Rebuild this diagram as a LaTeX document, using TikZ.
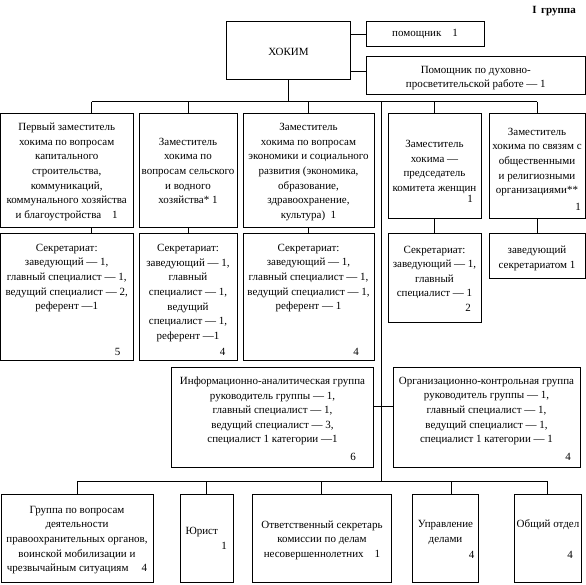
\documentclass[tikz,border=0pt]{standalone}
\usepackage{fontspec}
\setmainfont{Liberation Serif}
\usetikzlibrary{fit}
\begin{document}
\begin{tikzpicture}[x=1pt,y=-1pt,
  frame/.style={draw, line width=0.8pt, inner sep=0pt},
  txt/.style={align=center, inner sep=0pt, font=\fontsize{11}{14.6}\selectfont},
  num/.style={inner sep=0pt, font=\fontsize{11}{14.6}\selectfont},
  link/.style={line width=0.8pt}]
\useasboundingbox (0,0) rectangle (586,584);

% frames
\node[frame, fit={(226,21.7) (350.7,79.3)}] (hokim) {};
\node[frame, fit={(366.7,21.7) (484,46.7)}] (pom) {};
\node[frame, fit={(366.7,56.7) (585,94.3)}] (pdr) {};
\node[frame, fit={(0.5,113) (133,227)}] (b1) {};
\node[frame, fit={(139,113) (237,227)}] (b2) {};
\node[frame, fit={(243,113) (374,227)}] (b3) {};
\node[frame, fit={(388,113) (481,218)}] (b4) {};
\node[frame, fit={(489,113) (585,218)}] (b5) {};
\node[frame, fit={(0.5,233) (133,360)}] (s1) {};
\node[frame, fit={(139,233) (237,360)}] (s2) {};
\node[frame, fit={(243,233) (374,360)}] (s3) {};
\node[frame, fit={(388,233) (481,322)}] (s4) {};
\node[frame, fit={(489,233) (585,278)}] (s5) {};
\node[frame, fit={(171.7,367) (373,467)}] (info) {};
\node[frame, fit={(393,367) (580,467)}] (org) {};
\node[frame, fit={(1,494) (153,582)}] (grp) {};
\node[frame, fit={(180,494) (233,582)}] (jur) {};
\node[frame, fit={(252,494) (391.7,582.5)}] (otv) {};
\node[frame, fit={(412.7,494) (478,582)}] (upr) {};
\node[frame, fit={(514,494) (581.7,582)}] (obs) {};

% texts
\node[num, font=\fontsize{11}{14.6}\selectfont\bfseries] (title) at (554,10.7) {I\, группа};
\node[txt] (thokim) at (288.5,51.5) {ХОКИМ};
\node[txt] (tpom) at (425,34.5) {помощник\quad 1};
\node[txt] (tpdr) at (475.8,78) {Помощник по духовно-\\просветительской работе — 1};

\node[txt] (tb1) at (66.7,172) {Первый заместитель\\хокима по вопросам\\капитального\\строительства,\\коммуникаций,\\коммунального хозяйства\\и благоустройства\quad 1};
\node[txt] (tb2) at (188,171) {Заместитель\\хокима по\\вопросам сельского\\и водного\\хозяйства* 1};
\node[txt] (tb3) at (308.5,172) {Заместитель\\хокима по вопросам\\экономики и социального\\развития (экономика,\\образование,\\здравоохранение,\\культура)\enspace 1};
\node[txt] (tb4) at (434.5,167) {Заместитель\\хокима —\\председатель\\комитета женщин};
\node[num] (nb4) at (470,199) {1};
\node[txt] (tb5) at (537,162) {Заместитель\\хокима по связям с\\общественными\\и религиозными\\организациями**};
\node[num] (nb5) at (578,207) {1};

\node[txt] (ts1) at (66.7,278) {Секретариат:\\заведующий — 1,\\главный специалист — 1,\\ведущий специалист — 2,\\референт —1};
\node[num] (ns1) at (117.5,352) {5};
\node[txt] (ts2) at (188,293) {Секретариат:\\заведующий — 1,\\главный\\специалист — 1,\\ведущий\\специалист — 1,\\референт —1};
\node[num] (ns2) at (222.7,352) {4};
\node[txt] (ts3) at (308.5,278) {Секретариат:\\заведующий — 1,\\главный специалист — 1,\\ведущий специалист — 1,\\референт — 1};
\node[num] (ns3) at (356,352) {4};
\node[txt] (ts4) at (434.5,272.5) {Секретариат:\\заведующий — 1,\\главный\\специалист — 1};
\node[num] (ns4) at (468,308) {2};
\node[txt] (ts5) at (537,258.3) {заведующий\\секретариатом 1};

\node[txt] (tinfo) at (272.5,411) {Информационно-аналитическая группа\\руководитель группы — 1,\\главный специалист — 1,\\ведущий специалист — 3,\\специалист 1 категории —1};
\node[num] (ninfo) at (353,456.7) {6};
\node[txt] (torg) at (486.5,411) {Организационно-контрольная группа\\руководитель группы — 1,\\главный специалист — 1,\\ведущий специалист — 1,\\специалист 1 категории — 1};
\node[num] (norg) at (568,457) {4};

\node[txt] (tgrp) at (77,540) {Группа по вопросам\\деятельности\\правоохранительных органов,\\воинской мобилизации и\\чрезвычайным ситуациям\hspace{1.2em}4};
\node[txt] (tjur) at (201.7,531.7) {Юрист};
\node[num] (njur) at (224,546) {1};
\node[txt] (totv) at (322,540) {Ответственный секретарь\\комиссии по делам\\несовершеннолетних\quad 1};
\node[txt] (tupr) at (445.5,532.5) {Управление\\делами};
\node[num] (nupr) at (471.7,555) {4};
\node[txt] (tobs) at (548,525) {Общий отдел};
\node[num] (nobs) at (570,555) {4};

% connector points
\coordinate (busL) at (91.7,101.7);
\coordinate (busR) at (536.7,101.7);
\coordinate (midT) at (381.7,101.7);
\coordinate (midB) at (381.7,481.7);
\coordinate (hl) at (381.7,406.7);
\coordinate (p2) at (358,71);
\coordinate (uprTop) at (451,481.7);

% connectors
\draw[link] (hokim.east |- pom.west) -- (pom.west);
\draw[link] (p2 -| hokim.east) -- (p2 -| pdr.west);
\draw[link] (hokim.south) -- (hokim.south |- busL);
\draw[link] (busL) -- (busR);
\draw[link] (busL) -- (busL |- b1.north);
\draw[link] (b2.north |- busL) -- (b2.north);
\draw[link] (b3.north |- busL) -- (b3.north);
\draw[link] (b4.north |- busL) -- (b4.north);
\draw[link] (b5.north |- busL) -- (b5.north);
\draw[link] (busL |- b1.south) -- (busL |- s1.north);
\draw[link] (b2.south) -- (s2.north);
\draw[link] (b3.south) -- (s3.north);
\draw[link] (b4.south) -- (s4.north);
\draw[link] (b5.south) -- (s5.north);
\draw[link] (midT) -- (midB);
\draw[link] (hl -| info.east) -- (hl -| org.west);
\draw[link] (grp.north |- midB) -- (obs.north |- midB);
\draw[link] (grp.north |- midB) -- (grp.north);
\draw[link] (jur.north |- midB) -- (jur.north);
\draw[link] (otv.north |- midB) -- (otv.north);
\draw[link] (uprTop) -- (uprTop |- upr.north);
\draw[link] (obs.north |- midB) -- (obs.north);
\end{tikzpicture}
\end{document}
